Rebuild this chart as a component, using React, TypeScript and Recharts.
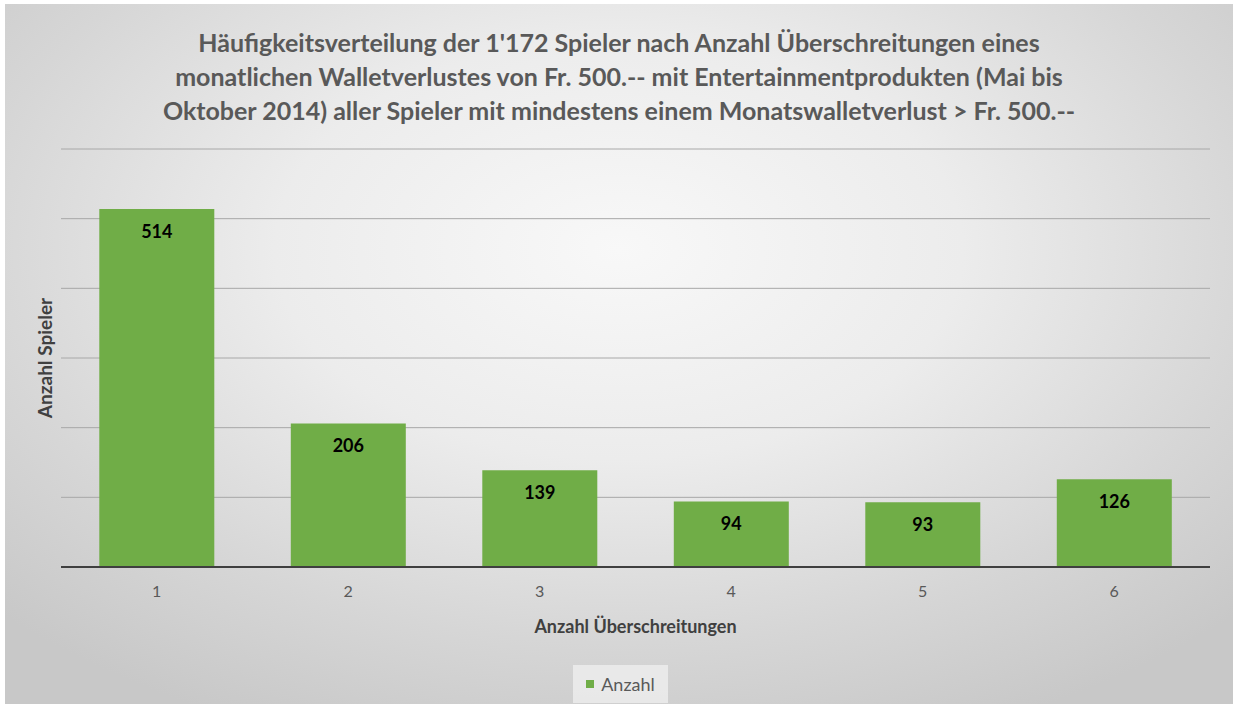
import { BarChart, Bar, XAxis, YAxis, CartesianGrid, LabelList } from "recharts";

const categories = ["1", "2", "3", "4", "5", "6"];
const anzahl = [514, 206, 139, 94, 93, 126];
const yTicks = [0, 100, 200, 300, 400, 500, 600];

const titleLines = [
  "Häufigkeitsverteilung der 1'172 Spieler nach Anzahl Überschreitungen eines",
  "monatlichen Walletverlustes von Fr. 500.-- mit Entertainmentprodukten (Mai bis",
  "Oktober 2014) aller Spieler mit mindestens einem Monatswalletverlust > Fr. 500.--",
];

const data = categories.map((c, i) => ({ name: c, anzahl: anzahl[i] }));

const GREEN = "#70AD47";
const FONT = "Lato, 'Open Sans', sans-serif";

// hidden y tick labels, grid still needs the ticks
const NoTick = () => <g />;

export default function App() {
  return (
    <div
      style={{
        position: "absolute",
        left: 5,
        top: 4,
        width: 1228,
        height: 700,
        fontFamily: FONT,
        background:
          "radial-gradient(ellipse 70% 75% at 50% 35%, #f8f8f8 0%, #ececec 40%, #d6d6d6 75%, #c8c8c8 100%)",
        overflow: "hidden",
      }}
    >
      {/* Title */}
      <div
        style={{
          position: "absolute",
          top: 21,
          left: 0,
          width: "100%",
          textAlign: "center",
          fontSize: 25,
          fontWeight: 700,
          lineHeight: "34px",
          color: "#595959",
        }}
      >
        {titleLines.map((l) => (
          <div key={l}>{l}</div>
        ))}
      </div>

      <BarChart
        width={1228}
        height={700}
        data={data}
        margin={{ top: 145, right: 23, left: 0, bottom: 67 }}
        barCategoryGap="20%"
        style={{ position: "absolute", left: 0, top: 0 }}
      >
        <CartesianGrid horizontal={true} vertical={false} stroke="#a8a8a8" strokeWidth={1} />
        <XAxis
          dataKey="name"
          height={70}
          tickLine={false}
          tickMargin={13}
          axisLine={{ stroke: "#3f3f3f", strokeWidth: 2 }}
          tick={{ fill: "#595959", fontSize: 16, fontFamily: FONT }}
          label={{
            value: "Anzahl Überschreitungen",
            position: "insideBottom",
            offset: 4,
            style: { fill: "#404040", fontSize: 18, fontWeight: 700, fontFamily: FONT },
          }}
        />
        <YAxis
          width={56}
          domain={[0, 600]}
          ticks={yTicks}
          tick={NoTick}
          tickLine={false}
          axisLine={false}
          label={{
            value: "Anzahl Spieler",
            angle: -90,
            position: "insideLeft",
            offset: 40,
            style: {
              fill: "#404040",
              fontSize: 19,
              fontWeight: 700,
              fontFamily: FONT,
              textAnchor: "middle",
            },
          }}
        />
        <Bar dataKey="anzahl" fill={GREEN} isAnimationActive={false}>
          <LabelList
            dataKey="anzahl"
            position="insideTop"
            offset={16}
            style={{ fill: "#000", fontSize: 18, fontWeight: 700, fontFamily: FONT }}
          />
        </Bar>
      </BarChart>

      {/* Legend */}
      <div
        style={{
          position: "absolute",
          left: 568,
          top: 661,
          width: 95,
          height: 38,
          background: "rgba(240,240,240,0.75)",
          display: "flex",
          alignItems: "center",
          justifyContent: "center",
          gap: 7,
          fontSize: 18,
          color: "#595959",
        }}
      >
        <span style={{ width: 8, height: 8, background: GREEN, display: "inline-block" }} />
        Anzahl
      </div>
    </div>
  );
}
